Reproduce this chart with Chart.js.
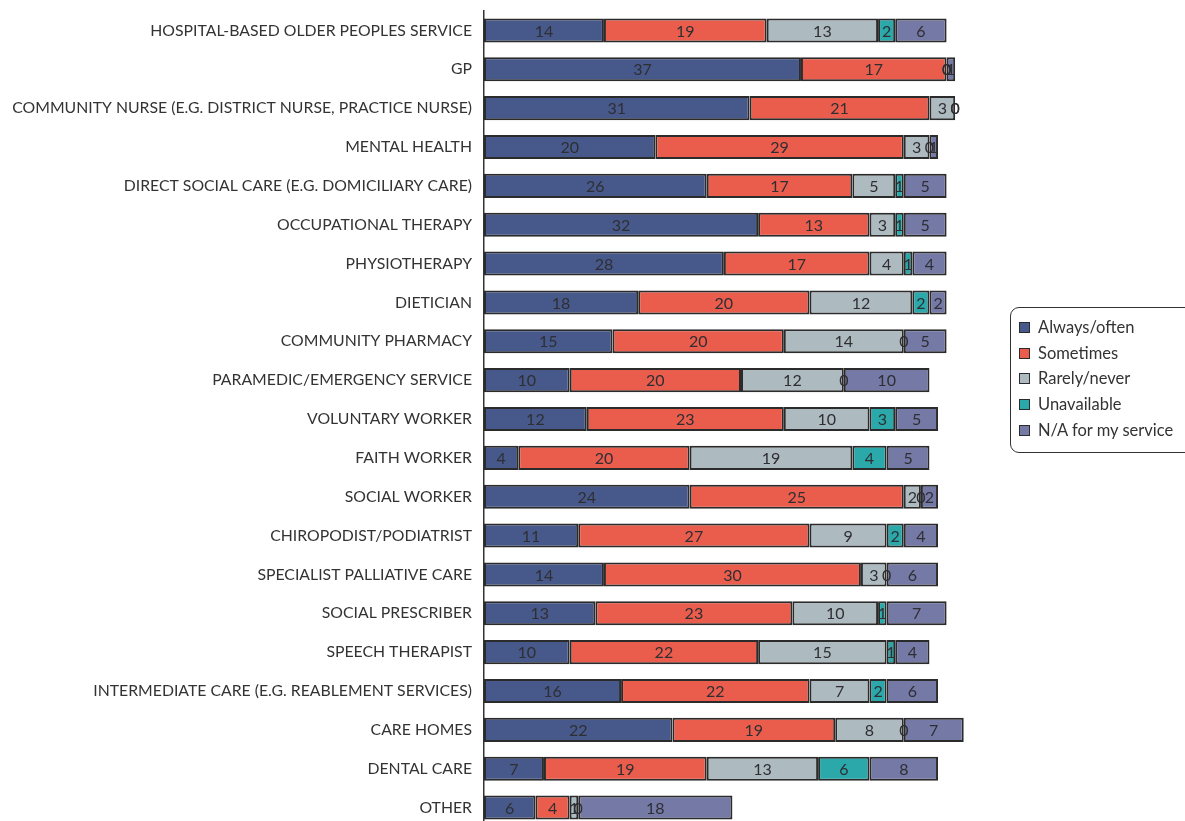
<!DOCTYPE html>
<html>
<head>
<meta charset="utf-8">
<script src="https://cdn.jsdelivr.net/npm/chart.js@4.4.1/dist/chart.umd.min.js"></script>
<style>
    html, body { margin: 0; padding: 0; background: #fff; overflow: hidden; }
    #wrap { position: relative; width: 1185px; height: 821px; }
    #legend {
        position: absolute; left: 1010px; top: 307px; width: 190px; height: 146px;
        border: 1.5px solid #333; border-radius: 9px; box-sizing: border-box;
        padding: 9px 0 0 8px; font-family: Lato, sans-serif; font-size: 16.5px; color: #333;
    }
    #legend .item { height: 25.7px; line-height: 20px; white-space: nowrap; }
    #legend .box {
        display: inline-block; width: 9px; height: 9px; border: 1.5px solid #2b2b2b;
        margin-right: 8px; vertical-align: 0px;
    }
</style>
</head>
<body>
<div id="wrap">
    <canvas id="chart" width="1185" height="850"></canvas>
    <div id="legend"></div>
</div>
<script>
// Kategori layanan (urut dari atas ke bawah)
const categories = [
    'HOSPITAL-BASED OLDER PEOPLES SERVICE',
    'GP',
    'COMMUNITY NURSE (E.G. DISTRICT NURSE, PRACTICE NURSE)',
    'MENTAL HEALTH',
    'DIRECT SOCIAL CARE (E.G. DOMICILIARY CARE)',
    'OCCUPATIONAL THERAPY',
    'PHYSIOTHERAPY',
    'DIETICIAN',
    'COMMUNITY PHARMACY',
    'PARAMEDIC/EMERGENCY SERVICE',
    'VOLUNTARY WORKER',
    'FAITH WORKER',
    'SOCIAL WORKER',
    'CHIROPODIST/PODIATRIST',
    'SPECIALIST PALLIATIVE CARE',
    'SOCIAL PRESCRIBER',
    'SPEECH THERAPIST',
    'INTERMEDIATE CARE (E.G. REABLEMENT SERVICES)',
    'CARE HOMES',
    'DENTAL CARE',
    'OTHER'
];

const alwaysOften  = [14, 37, 31, 20, 26, 32, 28, 18, 15, 10, 12, 4, 24, 11, 14, 13, 10, 16, 22, 7, 6];
const sometimes    = [19, 17, 21, 29, 17, 13, 17, 20, 20, 20, 23, 20, 25, 27, 30, 23, 22, 22, 19, 19, 4];
const rarelyNever  = [13, 0, 3, 3, 5, 3, 4, 12, 14, 12, 10, 19, 2, 9, 3, 10, 15, 7, 8, 13, 1];
const unavailable  = [2, 0, 0, 0, 1, 1, 1, 2, 0, 0, 3, 4, 0, 2, 0, 1, 1, 2, 0, 6, 0];
const notApplicable = [6, 1, 0, 1, 5, 5, 4, 2, 5, 10, 5, 5, 2, 4, 6, 7, 4, 6, 7, 8, 18];

const seriesNames = ['Always/often', 'Sometimes', 'Rarely/never', 'Unavailable', 'N/A for my service'];
const seriesColors = ['#47598a', '#ea5d4d', '#adbac0', '#2aa8aa', '#7579a6'];
const seriesData = [alwaysOften, sometimes, rarelyNever, unavailable, notApplicable];

// Tulis angka di tengah setiap segmen batang
const barLabels = {
    id: 'barLabels',
    afterDatasetsDraw(chart) {
        const ctx = chart.ctx;
        ctx.save();
        ctx.font = '16px Lato, sans-serif';
        ctx.fillStyle = '#2e2e33';
        ctx.textAlign = 'center';
        ctx.textBaseline = 'middle';
        chart.data.datasets.forEach((ds, i) => {
            chart.getDatasetMeta(i).data.forEach((bar, j) => {
                const cx = (bar.x + bar.base) / 2;
                ctx.fillText(String(ds.data[j]), cx, bar.y + 1);
            });
        });
        ctx.restore();
    }
};

const ctx = document.getElementById('chart').getContext('2d');
new Chart(ctx, {
    type: 'bar',
    data: {
        labels: categories,
        datasets: seriesNames.map((name, i) => ({
            label: name,
            data: seriesData[i],
            backgroundColor: seriesColors[i],
            borderColor: '#2b2b2b',
            borderWidth: 2,
            borderSkipped: false,
            barPercentage: 0.62,
            categoryPercentage: 1
        }))
    },
    options: {
        indexAxis: 'y',
        responsive: false,
        animation: false,
        layout: { padding: { top: 11, bottom: 23, left: 0, right: 187 } },
        plugins: {
            legend: { display: false },
            tooltip: { enabled: false }
        },
        scales: {
            x: {
                stacked: true,
                display: false,
                min: 0,
                max: 60
            },
            y: {
                stacked: true,
                grid: { display: false, drawTicks: false },
                border: { display: true, color: '#333', width: 1.5 },
                ticks: {
                    color: '#333',
                    padding: 12,
                    font: { family: 'Lato, sans-serif', size: 15.8 }
                },
                afterFit(axis) {
                    // lebar sumbu tetap, tanpa padding vertikal dari label
                    axis.width = 484;
                    axis.paddingTop = 0;
                    axis.paddingBottom = 0;
                }
            }
        }
    },
    plugins: [barLabels]
});

// Legenda di kanan
const legend = document.getElementById('legend');
seriesNames.forEach((name, i) => {
    const item = document.createElement('div');
    item.className = 'item';
    item.innerHTML = '<span class="box" style="background:' + seriesColors[i] + '"></span>' + name;
    legend.appendChild(item);
});
</script>
</body>
</html>
